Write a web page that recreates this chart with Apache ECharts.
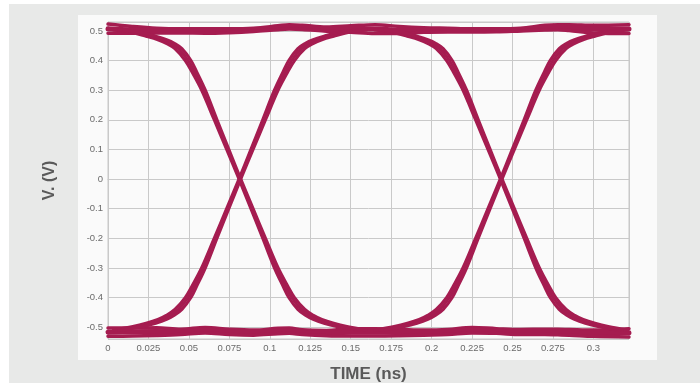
<!DOCTYPE html>
<html>
<head>
<meta charset="utf-8">
<script src="https://cdn.jsdelivr.net/npm/echarts@6/dist/echarts.min.js"></script>
<style>
  html, body { margin: 0; padding: 0; background: #ffffff; }
  .frame { position: absolute; left: 9px; top: 4px; width: 691px; height: 379px; background: #e8e9e8; }
  .panel { position: absolute; left: 78px; top: 15px; width: 579px; height: 345px; background: #fafafa; }
  #chart { position: absolute; left: 0; top: 0; width: 700px; height: 383px; }
</style>
</head>
<body>
<div class="frame"></div>
<div class="panel"></div>
<div id="chart"></div>
<script>
// time grid (ns) for the two flat levels
const levelT = [0, 0.015, 0.03, 0.045, 0.06, 0.075, 0.09, 0.105, 0.112, 0.12, 0.135, 0.15, 0.165, 0.18,
  0.195, 0.21, 0.225, 0.24, 0.255, 0.27, 0.278, 0.285, 0.3, 0.322]

// high level band (V): upper / middle / lower traces
const highUp  = [0.523, 0.515, 0.509, 0.507, 0.507, 0.507, 0.509, 0.517, 0.521, 0.519, 0.513, 0.517, 0.521, 0.515,
  0.511, 0.509, 0.507, 0.507, 0.509, 0.519, 0.521, 0.521, 0.519, 0.521]
const highMid = [0.507, 0.503, 0.501, 0.5, 0.499, 0.5, 0.503, 0.51, 0.513, 0.512, 0.506, 0.506, 0.506, 0.503,
  0.503, 0.502, 0.501, 0.502, 0.504, 0.511, 0.513, 0.511, 0.506, 0.506]
const highLow = [0.492, 0.492, 0.493, 0.493, 0.492, 0.494, 0.498, 0.504, 0.506, 0.505, 0.499, 0.495, 0.491, 0.491,
  0.495, 0.496, 0.496, 0.497, 0.5, 0.503, 0.504, 0.501, 0.493, 0.491]

// low level band (V)
const lowUp  = [-0.503, -0.503, -0.502, -0.507, -0.501, -0.507, -0.51, -0.504, -0.503, -0.509, -0.511, -0.505, -0.505, -0.507,
  -0.51, -0.508, -0.501, -0.505, -0.508, -0.507, -0.507, -0.508, -0.51, -0.505]
const lowMid = [-0.517, -0.516, -0.515, -0.516, -0.51, -0.516, -0.518, -0.513, -0.512, -0.517, -0.52, -0.517, -0.517, -0.518,
  -0.518, -0.516, -0.51, -0.513, -0.516, -0.516, -0.516, -0.517, -0.52, -0.519]
const lowLow = [-0.531, -0.53, -0.528, -0.525, -0.52, -0.525, -0.527, -0.522, -0.521, -0.525, -0.529, -0.53, -0.53, -0.529,
  -0.527, -0.525, -0.52, -0.521, -0.525, -0.525, -0.526, -0.527, -0.531, -0.533]

// transition voltages (V), read along the falling and rising bands
const fallV = [0.503, 0.494, 0.482, 0.47, 0.458, 0.44, 0.4, 0.36, 0.3, 0.2, 0.1, 0, -0.1, -0.2, -0.3, -0.36, -0.4,
  -0.44, -0.46, -0.474, -0.487, -0.498, -0.51]
const riseV = [-0.51, -0.498, -0.487, -0.474, -0.46, -0.44, -0.4, -0.36, -0.3, -0.2, -0.1, 0, 0.1, 0.2, 0.3, 0.36, 0.4,
  0.44, 0.458, 0.47, 0.482, 0.494, 0.503]

// times (ns) around the first crossing (~0.0815): early / middle / late edge of the band
const edge1Early = [0.0033, 0.0153, 0.0235, 0.0308, 0.036, 0.0413, 0.0477, 0.052, 0.0578, 0.0656, 0.0733, 0.0809,
  0.0883, 0.0956, 0.1028, 0.108, 0.1117, 0.1173, 0.122, 0.1268, 0.1335, 0.1413, 0.1533]
const edge1Mid = [0.0065, 0.0185, 0.0265, 0.0335, 0.0385, 0.0435, 0.0495, 0.0535, 0.059, 0.0665, 0.074, 0.0815,
  0.089, 0.0965, 0.104, 0.1095, 0.1135, 0.1195, 0.1245, 0.1295, 0.1365, 0.1445, 0.1565]
const edge1Late = [0.0097, 0.0217, 0.0295, 0.0362, 0.041, 0.0457, 0.0513, 0.055, 0.0602, 0.0674, 0.0747, 0.0821,
  0.0897, 0.0974, 0.1052, 0.111, 0.1153, 0.1217, 0.127, 0.1322, 0.1395, 0.1477, 0.1597]

// times (ns) around the second crossing (~0.243)
const edge2Early = [0.1648, 0.1768, 0.185, 0.1923, 0.1975, 0.2028, 0.2092, 0.2135, 0.2193, 0.2271, 0.2348, 0.2424,
  0.2498, 0.2571, 0.2643, 0.2695, 0.2732, 0.2788, 0.2835, 0.2883, 0.295, 0.3028, 0.3148]
const edge2Mid = [0.168, 0.18, 0.188, 0.195, 0.2, 0.205, 0.211, 0.215, 0.2205, 0.228, 0.2355, 0.243,
  0.2505, 0.258, 0.2655, 0.271, 0.275, 0.281, 0.286, 0.291, 0.298, 0.306, 0.318]
const edge2Late = [0.1712, 0.1832, 0.191, 0.1977, 0.2025, 0.2072, 0.2128, 0.2165, 0.2217, 0.2289, 0.2362, 0.2436,
  0.2512, 0.2589, 0.2667, 0.2725, 0.2768, 0.2832, 0.2885, 0.2937, 0.301, 0.3092, 0.3212]

const TRACE = '#a51c50'
const GRIDLINE = '#c9c9c9'
const FONT = '"Liberation Sans", Arial, sans-serif'

function pairs(ts, vs) {
  return ts.map((t, i) => [t, vs[i]])
}

function trace(name, data, width) {
  return {
    name,
    type: 'line',
    data,
    smooth: 0.35,
    showSymbol: false,
    symbol: 'none',
    silent: true,
    lineStyle: { color: TRACE, width: width || 3, cap: 'round', join: 'round' },
    emphasis: { disabled: true }
  }
}

const series = [
  trace('high upper', pairs(levelT, highUp), 3.5),
  trace('high mid', pairs(levelT, highMid), 5),
  trace('high lower', pairs(levelT, highLow), 3.5),
  trace('low upper', pairs(levelT, lowUp), 3.5),
  trace('low mid', pairs(levelT, lowMid), 5),
  trace('low lower', pairs(levelT, lowLow), 3.5)
]
;[[edge1Early, 'e1 early'], [edge1Mid, 'e1 mid'], [edge1Late, 'e1 late'],
  [edge2Early, 'e2 early'], [edge2Mid, 'e2 mid'], [edge2Late, 'e2 late']].forEach(([ts, n]) => {
  series.push(trace(n + ' fall', pairs(ts, fallV)))
  series.push(trace(n + ' rise', pairs(ts, riseV)))
})

const chart = echarts.init(document.getElementById('chart'), null, { renderer: 'canvas' })
chart.setOption({
  backgroundColor: 'transparent',
  animation: false,
  grid: {
    left: 108, top: 22, right: 71, bottom: 44,
    outerBoundsMode: 'none',
    show: true, borderColor: GRIDLINE, borderWidth: 1, backgroundColor: 'transparent'
  },
  xAxis: {
    type: 'value',
    min: 0,
    max: 0.322,
    interval: 0.025,
    name: 'TIME (ns)',
    nameLocation: 'middle',
    nameGap: 27,
    nameTextStyle: { fontFamily: FONT, fontSize: 17, fontWeight: 'bold', color: '#5a5a5a' },
    axisLine: { show: true, lineStyle: { color: GRIDLINE } },
    axisTick: { show: true, length: 2, lineStyle: { color: GRIDLINE } },
    axisLabel: { fontFamily: FONT, fontSize: 9.5, color: '#6b6b6b', margin: 4, showMaxLabel: false },
    splitLine: { show: true, lineStyle: { color: GRIDLINE, width: 1 } }
  },
  yAxis: {
    type: 'value',
    min: -0.54,
    max: 0.53,
    splitNumber: 10,
    name: 'V. (V)',
    nameLocation: 'middle',
    nameGap: 50,
    nameTextStyle: { fontFamily: FONT, fontSize: 16, fontWeight: 'bold', color: '#5a5a5a' },
    axisLine: { show: true, lineStyle: { color: GRIDLINE } },
    axisTick: { show: false },
    axisLabel: { fontFamily: FONT, fontSize: 9.5, color: '#6b6b6b', margin: 5, showMinLabel: false, showMaxLabel: false },
    splitLine: { show: true, lineStyle: { color: GRIDLINE, width: 1 } }
  },
  series
})
</script>
</body>
</html>
